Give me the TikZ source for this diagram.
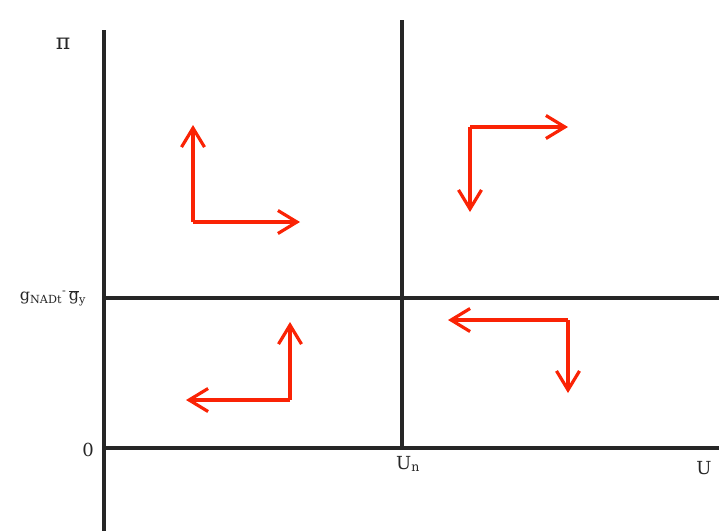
\documentclass[tikz,border=0pt]{standalone}
\usepackage{fontspec}
\setmainfont{DejaVu Serif}
\usetikzlibrary{arrows.meta}
\begin{document}
\begin{tikzpicture}[x=1pt,y=-1pt,
  axis/.style={line width=3.4pt,draw=black!85},
  flow/.style={line width=3.2pt,draw={rgb,255:red,250;green,35;blue,5},
    -{Straight Barb[length=19pt,width=23pt,line width=3.2pt]}},
  lbl/.style={font=\fontsize{18}{20}\selectfont,text=black!85,inner sep=0pt}]
\useasboundingbox (0,0) rectangle (719,531);
% axes
\coordinate (yt) at (104,30);
\coordinate (yb) at (104,531);
\coordinate (xl) at (104,448);
\coordinate (xr) at (719,448);
\coordinate (ml) at (104,298);
\coordinate (mr) at (719,298);
\coordinate (vt) at (402,20);
\coordinate (vb) at (402,448);
\draw[axis] (yt) -- (yb);
\draw[axis] (xl) -- (xr);
\draw[axis] (ml) -- (mr);
\draw[axis] (vt) -- (vb);
% labels
\node[lbl,font=\fontsize{22}{24}\selectfont] (pi) at (63,44) {π};
\node[lbl,font=\fontsize{16}{18}\selectfont] (g) at (53,298) {g\textsubscript{NADt}\textsuperscript{-}\,$\overline{\mbox{g}}$\textsubscript{y}};
\node[lbl] (zero) at (88,450) {0};
\node[lbl] (un) at (408,464) {U\textsubscript{n}};
\node[lbl] (u) at (704,468) {U};
% arrows
\coordinate (c1) at (193,222);
\coordinate (a1u) at (193,125);
\coordinate (a1r) at (300,222);
\draw[flow] (c1) -- (a1u);
\draw[flow] (c1) -- (a1r);
\coordinate (c2) at (470,127);
\coordinate (a2d) at (470,212);
\coordinate (a2r) at (568,127);
\draw[flow] (c2) -- (a2d);
\draw[flow] (c2) -- (a2r);
\coordinate (c3) at (290,400);
\coordinate (a3u) at (290,322);
\coordinate (a3l) at (186,400);
\draw[flow] (c3) -- (a3u);
\draw[flow] (c3) -- (a3l);
\coordinate (c4) at (568,320);
\coordinate (a4l) at (448,320);
\coordinate (a4d) at (568,393);
\draw[flow] (c4) -- (a4l);
\draw[flow] (c4) -- (a4d);
\end{tikzpicture}
\end{document}
